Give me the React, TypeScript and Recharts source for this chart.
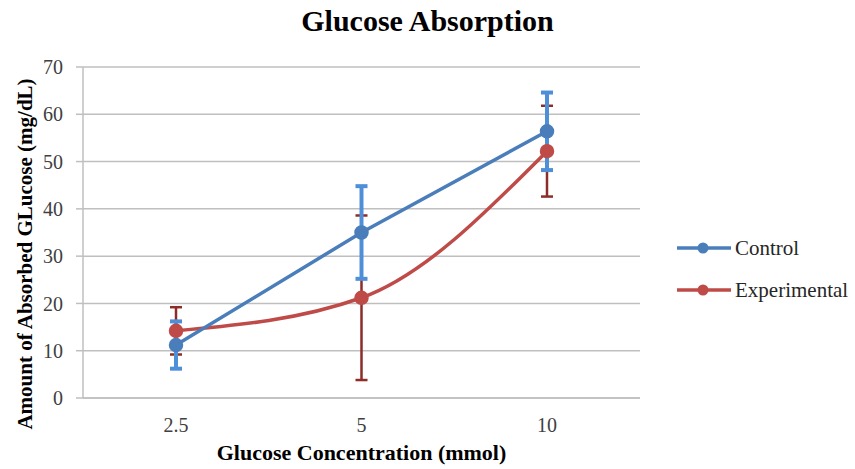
import React from 'react';
import { LineChart, Line, XAxis, YAxis, CartesianGrid, ErrorBar, Label } from 'recharts';

const concentrations = ['2.5', '5', '10'];
const controlValues = [11.2, 35, 56.4];
const controlErrors = [5, 9.8, 8.2];
const experimentalValues = [14.2, 21.2, 52.2];
const experimentalErrors = [5, 17.4, 9.6];
const yTicks = [0, 10, 20, 30, 40, 50, 60, 70];

const data = concentrations.map((c, i) => ({
  conc: c,
  control: controlValues[i],
  controlErr: controlErrors[i],
  experimental: experimentalValues[i],
  experimentalErr: experimentalErrors[i],
}));

const FONT = '"Liberation Serif", "Times New Roman", serif';
const BLUE = '#4a7ebb';
const RED = '#be4b48';

const legendItems = [
  { name: 'Control', color: BLUE },
  { name: 'Experimental', color: RED },
];

export default function App() {
  return (
    <div style={{ position: 'absolute', left: 0, top: 0, width: 855, height: 469, background: '#fff', fontFamily: FONT }}>
      <div style={{ position: 'absolute', top: 4, left: 0, width: 855, textAlign: 'center', fontSize: 30, fontWeight: 'bold', color: '#000', fontFamily: FONT }}>
        Glucose Absorption
      </div>
      <LineChart width={855} height={469} data={data} margin={{ top: 67, right: 215, bottom: 41, left: 33 }}>
        <CartesianGrid vertical={false} stroke="#bfbfbf" strokeWidth={1.5} />
        <XAxis
          dataKey="conc"
          padding={{ left: 93, right: 93 }}
          tickLine={false}
          stroke="#bfbfbf"
          strokeWidth={1.5}
          tick={{ fill: '#404040', fontSize: 20, fontFamily: FONT }}
          tickMargin={14}
        >
          <Label value="Glucose Concentration (mmol)" position="bottom" offset={16} style={{ fontFamily: FONT, fontSize: 22, fontWeight: 'bold', fill: '#000' }} />
        </XAxis>
        <YAxis
          width={50}
          domain={[0, 70]}
          ticks={yTicks}
          stroke="#bfbfbf"
          strokeWidth={1.5}
          tickSize={7}
          tick={{ fill: '#404040', fontSize: 20, fontFamily: FONT }}
          tickMargin={13}
        />
        <Line
          type="monotone"
          dataKey="experimental"
          stroke={RED}
          strokeWidth={3.5}
          dot={{ r: 5.5, fill: RED, stroke: RED }}
          isAnimationActive={false}
        >
          <ErrorBar dataKey="experimentalErr" direction="y" width={6} stroke="#8c2d2a" strokeWidth={2.5} />
        </Line>
        <Line
          type="linear"
          dataKey="control"
          stroke={BLUE}
          strokeWidth={3.5}
          dot={{ r: 5.5, fill: BLUE, stroke: BLUE }}
          isAnimationActive={false}
        >
          <ErrorBar dataKey="controlErr" direction="y" width={6} stroke="#4f8fd8" strokeWidth={4} />
        </Line>
      </LineChart>
      <svg style={{ position: 'absolute', left: 0, top: 0 }} width={60} height={469}>
        <text
          transform="translate(25,254) rotate(-90)"
          textAnchor="middle"
          dominantBaseline="central"
          style={{ fontFamily: FONT, fontSize: 21, fontWeight: 'bold', fill: '#000' }}
        >
          Amount of Absorbed GLucose (mg/dL)
        </text>
      </svg>
      {legendItems.map((item, i) => (
        <div key={item.name} style={{ position: 'absolute', left: 677, top: 235 + i * 42, height: 26, display: 'flex', alignItems: 'center', fontFamily: FONT }}>
          <svg width={56} height={26}>
            <line x1={0} y1={13} x2={54} y2={13} stroke={item.color} strokeWidth={3.5} />
            <circle cx={26} cy={13} r={5.5} fill={item.color} />
          </svg>
          <span style={{ fontSize: 21, color: '#262626', marginLeft: 2, fontFamily: FONT }}>{item.name}</span>
        </div>
      ))}
    </div>
  );
}
